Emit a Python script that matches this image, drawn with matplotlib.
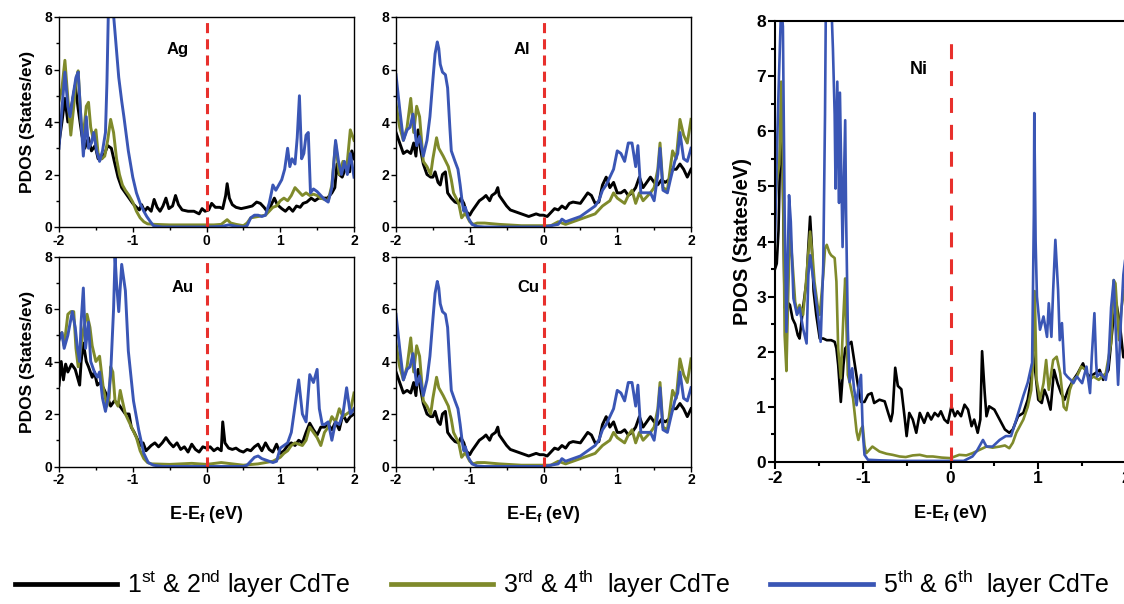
import numpy as np
import matplotlib
matplotlib.use("Agg")
import matplotlib.pyplot as plt
from matplotlib.ticker import MultipleLocator
from matplotlib.lines import Line2D
from matplotlib import font_manager

# ---------------------------------------------------------------- data
# Each series: (E - Ef in eV, PDOS in states/eV)
ag_black = [(-2.0,3.2),(-1.96,4.0),(-1.92,4.9),(-1.88,4.0),(-1.83,4.6),(-1.78,5.4),(-1.74,4.5),(-1.69,3.5),(-1.65,3.0),(-1.6,3.4),(-1.56,2.9),(-1.51,3.1),(-1.47,2.6),(-1.42,2.6),(-1.38,2.8),(-1.34,3.1),(-1.29,3.0),(-1.25,2.5),(-1.2,1.9),(-1.15,1.5),(-1.1,1.3),(-1.05,1.1),(-1.0,0.9),(-0.95,0.75),(-0.91,0.65),(-0.88,0.85),(-0.84,0.6),(-0.8,0.75),(-0.75,0.6),(-0.71,1.05),(-0.67,0.75),(-0.63,0.6),(-0.59,0.8),(-0.55,1.1),(-0.51,0.7),(-0.46,0.8),(-0.42,1.2),(-0.38,0.85),(-0.33,0.65),(-0.25,0.6),(-0.17,0.6),(-0.1,0.5),(-0.06,0.7),(-0.02,0.6),(0.03,0.65),(0.07,0.9),(0.12,0.75),(0.18,0.75),(0.22,0.7),(0.26,1.2),(0.28,1.65),(0.31,1.1),(0.35,0.85),(0.4,0.75),(0.47,0.7),(0.55,0.75),(0.62,0.8),(0.68,0.95),(0.73,0.9),(0.78,0.75),(0.82,0.6),(0.87,0.8),(0.92,1.1),(0.96,0.85),(1.02,0.7),(1.07,0.6),(1.12,0.75),(1.17,0.6),(1.22,0.8),(1.27,0.75),(1.31,0.9),(1.36,0.95),(1.42,1.1),(1.47,1.0),(1.52,1.1),(1.58,1.1),(1.64,1.1),(1.7,1.3),(1.74,1.5),(1.77,2.4),(1.8,2.0),(1.84,1.9),(1.88,2.2),(1.91,2.3),(1.94,2.1),(1.97,2.9),(2.0,2.6)]
ag_green = [(-2.0,4.8),(-1.96,5.3),(-1.92,6.35),(-1.88,4.9),(-1.84,3.5),(-1.8,4.6),(-1.77,5.6),(-1.74,5.95),(-1.7,4.0),(-1.67,3.5),(-1.63,4.6),(-1.6,4.75),(-1.57,3.8),(-1.54,3.4),(-1.5,3.7),(-1.47,2.8),(-1.42,2.6),(-1.38,2.7),(-1.34,3.3),(-1.3,4.1),(-1.26,3.6),(-1.22,2.6),(-1.18,2.0),(-1.14,1.6),(-1.1,1.4),(-1.05,1.2),(-1.0,0.95),(-0.95,0.6),(-0.9,0.35),(-0.85,0.2),(-0.8,0.12),(-0.7,0.1),(-0.5,0.08),(-0.3,0.08),(-0.1,0.08),(0.1,0.08),(0.2,0.1),(0.28,0.28),(0.33,0.15),(0.4,0.1),(0.5,0.05),(0.55,0.15),(0.6,0.35),(0.7,0.4),(0.8,0.45),(0.85,0.6),(0.9,0.75),(0.95,0.8),(1.0,1.0),(1.05,1.1),(1.1,1.0),(1.15,1.2),(1.2,1.5),(1.25,1.35),(1.3,1.2),(1.35,1.3),(1.4,1.2),(1.45,1.25),(1.5,1.2),(1.55,1.1),(1.6,1.05),(1.65,1.0),(1.7,1.6),(1.75,3.2),(1.8,2.0),(1.85,2.5),(1.9,2.2),(1.95,3.7),(2.0,3.3)]
ag_blue = [(-2.0,3.0),(-1.96,4.5),(-1.92,5.9),(-1.88,4.6),(-1.85,4.2),(-1.81,5.0),(-1.77,5.7),(-1.74,5.9),(-1.7,4.0),(-1.67,2.7),(-1.63,4.2),(-1.6,3.0),(-1.56,3.2),(-1.53,3.6),(-1.49,2.9),(-1.45,2.5),(-1.41,2.9),(-1.37,3.6),(-1.35,5.5),(-1.33,8.3),(-1.3,9.0),(-1.27,8.4),(-1.24,7.4),(-1.19,5.7),(-1.15,4.8),(-1.12,4.2),(-1.06,2.9),(-1.0,1.9),(-0.95,1.3),(-0.9,0.9),(-0.85,0.6),(-0.81,0.4),(-0.76,0.2),(-0.72,0.05),(-0.6,0.0),(-0.3,0.0),(0.0,0.0),(0.2,0.02),(0.3,0.08),(0.4,0.03),(0.5,0.0),(0.55,0.05),(0.6,0.35),(0.65,0.45),(0.7,0.45),(0.75,0.4),(0.8,0.45),(0.85,0.9),(0.88,1.3),(0.9,1.6),(0.94,1.4),(0.98,1.6),(1.02,1.8),(1.06,2.2),(1.1,3.0),(1.13,2.3),(1.16,2.6),(1.2,2.4),(1.23,3.4),(1.26,5.0),(1.29,2.6),(1.32,2.8),(1.35,3.5),(1.38,3.6),(1.41,1.3),(1.45,1.45),(1.5,1.35),(1.55,1.2),(1.6,1.05),(1.65,0.95),(1.7,1.5),(1.75,3.3),(1.79,2.5),(1.83,2.0),(1.87,2.5),(1.91,2.0),(1.95,2.8),(2.0,1.9)]

al_black = [(-2.0,3.6),(-1.95,3.2),(-1.9,2.8),(-1.85,2.9),(-1.8,2.8),(-1.76,3.2),(-1.73,2.7),(-1.7,3.7),(-1.67,3.0),(-1.63,2.4),(-1.58,2.0),(-1.53,1.9),(-1.5,1.9),(-1.47,2.1),(-1.43,1.7),(-1.4,1.6),(-1.37,2.0),(-1.33,2.1),(-1.3,1.3),(-1.25,1.1),(-1.2,0.95),(-1.15,0.9),(-1.12,1.1),(-1.08,0.9),(-1.05,0.6),(-1.0,0.45),(-0.97,0.6),(-0.92,0.8),(-0.87,1.0),(-0.82,1.1),(-0.78,1.2),(-0.73,1.0),(-0.7,1.2),(-0.65,1.3),(-0.62,1.5),(-0.6,1.2),(-0.55,1.0),(-0.5,0.8),(-0.45,0.65),(-0.4,0.6),(-0.35,0.55),(-0.3,0.5),(-0.2,0.4),(-0.1,0.5),(-0.05,0.45),(0.0,0.45),(0.05,0.4),(0.1,0.55),(0.15,0.7),(0.2,0.65),(0.25,0.8),(0.3,0.7),(0.35,0.9),(0.4,0.95),(0.5,0.9),(0.55,1.1),(0.6,1.3),(0.65,1.2),(0.7,0.9),(0.75,0.95),(0.8,1.6),(0.85,1.9),(0.9,1.5),(0.95,1.7),(1.0,1.3),(1.05,1.3),(1.1,1.4),(1.15,1.2),(1.2,1.3),(1.25,1.5),(1.3,1.9),(1.35,1.5),(1.4,1.7),(1.45,1.9),(1.5,1.7),(1.55,1.6),(1.6,1.8),(1.65,1.7),(1.7,1.8),(1.75,2.2),(1.8,2.2),(1.85,2.4),(1.9,2.2),(1.95,1.9),(2.0,2.2)]
al_green = [(-2.0,4.7),(-1.95,3.8),(-1.9,3.3),(-1.85,3.8),(-1.8,4.9),(-1.76,3.6),(-1.72,4.6),(-1.68,4.2),(-1.63,2.5),(-1.58,2.3),(-1.53,2.0),(-1.5,2.6),(-1.45,3.4),(-1.42,3.0),(-1.36,2.7),(-1.29,2.3),(-1.25,1.8),(-1.22,1.3),(-1.15,0.9),(-1.11,0.35),(-1.06,0.53),(-1.0,0.2),(-0.95,0.1),(-0.9,0.15),(-0.8,0.15),(-0.6,0.1),(-0.3,0.05),(0.0,0.05),(0.1,0.05),(0.2,0.2),(0.3,0.1),(0.4,0.2),(0.5,0.3),(0.6,0.4),(0.7,0.5),(0.8,0.8),(0.9,1.0),(0.95,1.3),(1.0,1.1),(1.1,0.9),(1.15,1.2),(1.2,1.4),(1.25,0.9),(1.3,1.3),(1.35,1.0),(1.45,1.3),(1.5,1.5),(1.55,2.2),(1.58,3.2),(1.62,1.5),(1.68,1.4),(1.75,2.9),(1.8,2.6),(1.85,4.1),(1.9,3.5),(1.95,3.2),(2.0,4.1)]
al_blue = [(-2.0,5.8),(-1.95,4.5),(-1.9,3.3),(-1.85,3.7),(-1.81,3.8),(-1.77,4.3),(-1.72,3.1),(-1.68,3.45),(-1.63,2.7),(-1.58,3.3),(-1.54,4.2),(-1.5,5.6),(-1.47,6.6),(-1.44,7.05),(-1.42,6.8),(-1.4,6.2),(-1.37,5.9),(-1.33,5.8),(-1.3,5.3),(-1.27,3.8),(-1.25,2.9),(-1.2,2.5),(-1.16,2.2),(-1.13,1.6),(-1.1,0.9),(-1.08,0.6),(-1.06,0.75),(-1.02,0.35),(-0.97,0.1),(-0.9,0.02),(-0.8,0.0),(0.0,0.0),(0.1,0.05),(0.2,0.1),(0.25,0.3),(0.3,0.2),(0.4,0.3),(0.5,0.4),(0.6,0.6),(0.7,0.8),(0.75,1.0),(0.8,1.4),(0.85,1.6),(0.9,1.9),(0.95,2.2),(1.0,2.9),(1.05,2.8),(1.1,2.5),(1.15,3.2),(1.2,3.2),(1.25,2.3),(1.28,3.1),(1.32,1.3),(1.4,1.3),(1.45,1.3),(1.5,1.0),(1.55,2.0),(1.58,3.0),(1.62,1.4),(1.68,1.3),(1.72,1.8),(1.78,2.5),(1.82,2.8),(1.85,3.6),(1.9,2.6),(1.95,2.5),(2.0,3.0)]

au_black = [(-2.0,3.1),(-1.97,4.0),(-1.94,3.3),(-1.91,3.9),(-1.88,3.6),(-1.83,3.9),(-1.78,3.7),(-1.74,3.3),(-1.72,3.1),(-1.7,4.0),(-1.67,4.7),(-1.63,4.0),(-1.6,3.8),(-1.55,3.4),(-1.52,3.6),(-1.48,3.1),(-1.44,3.2),(-1.4,3.0),(-1.35,2.7),(-1.3,2.3),(-1.25,2.5),(-1.2,2.4),(-1.15,2.2),(-1.1,2.0),(-1.05,2.0),(-1.02,1.5),(-0.98,1.3),(-0.93,1.0),(-0.9,0.8),(-0.86,0.9),(-0.82,0.6),(-0.75,0.8),(-0.7,0.9),(-0.65,0.75),(-0.6,0.9),(-0.55,1.1),(-0.5,0.9),(-0.45,0.75),(-0.4,0.9),(-0.35,0.65),(-0.3,0.75),(-0.25,0.55),(-0.2,0.85),(-0.15,0.65),(-0.1,0.55),(-0.05,0.75),(0.0,0.7),(0.05,0.75),(0.1,0.6),(0.15,0.7),(0.2,0.6),(0.22,1.7),(0.25,0.9),(0.3,0.7),(0.35,0.65),(0.4,0.7),(0.45,0.6),(0.5,0.55),(0.55,0.65),(0.6,0.6),(0.65,0.75),(0.7,0.85),(0.75,0.6),(0.8,0.9),(0.85,0.65),(0.9,0.55),(0.95,0.85),(1.0,0.5),(1.05,0.6),(1.1,0.8),(1.15,0.9),(1.2,0.8),(1.25,1.0),(1.3,0.9),(1.35,1.3),(1.4,1.65),(1.45,1.4),(1.5,1.2),(1.55,1.5),(1.6,1.5),(1.65,1.6),(1.7,1.4),(1.75,1.7),(1.8,1.4),(1.85,2.0),(1.9,1.7),(1.95,1.9),(2.0,2.0)]
au_green = [(-2.0,5.0),(-1.96,5.1),(-1.93,4.6),(-1.88,5.8),(-1.84,5.9),(-1.8,5.9),(-1.77,4.5),(-1.74,3.8),(-1.7,4.6),(-1.67,5.2),(-1.62,5.8),(-1.58,5.3),(-1.55,4.6),(-1.5,4.0),(-1.45,4.2),(-1.4,3.0),(-1.35,2.3),(-1.32,2.6),(-1.3,3.8),(-1.27,3.6),(-1.24,2.5),(-1.2,2.3),(-1.17,2.9),(-1.14,2.5),(-1.1,2.0),(-1.05,1.7),(-1.0,1.4),(-0.95,1.1),(-0.9,0.6),(-0.85,0.3),(-0.8,0.15),(-0.75,0.1),(-0.5,0.08),(-0.2,0.12),(0.0,0.08),(0.2,0.15),(0.5,0.05),(0.7,0.1),(0.8,0.15),(0.9,0.2),(1.0,0.35),(1.05,0.5),(1.1,0.6),(1.15,0.8),(1.2,0.9),(1.25,0.85),(1.3,0.8),(1.35,1.0),(1.4,1.5),(1.45,1.3),(1.5,1.1),(1.55,0.8),(1.6,1.3),(1.65,1.5),(1.7,1.9),(1.75,1.7),(1.8,2.2),(1.85,1.9),(1.9,2.0),(1.95,2.1),(2.0,2.8)]
au_blue = [(-2.0,4.8),(-1.96,5.1),(-1.93,4.5),(-1.88,5.0),(-1.82,5.9),(-1.78,5.3),(-1.75,4.5),(-1.72,4.0),(-1.7,5.5),(-1.67,6.8),(-1.64,4.5),(-1.6,5.5),(-1.57,4.0),(-1.52,3.6),(-1.48,3.4),(-1.45,3.6),(-1.41,2.6),(-1.37,2.1),(-1.33,2.7),(-1.3,3.5),(-1.26,6.0),(-1.24,8.0),(-1.22,7.0),(-1.19,5.9),(-1.15,7.7),(-1.1,6.7),(-1.06,4.4),(-0.99,2.5),(-0.92,1.4),(-0.85,0.5),(-0.79,0.15),(-0.72,0.05),(-0.6,0.0),(0.5,0.0),(0.55,0.05),(0.6,0.2),(0.65,0.35),(0.7,0.4),(0.75,0.3),(0.8,0.25),(0.85,0.2),(0.9,0.15),(0.95,0.2),(1.0,0.7),(1.05,0.8),(1.1,0.9),(1.15,1.3),(1.2,2.3),(1.25,3.3),(1.3,2.0),(1.35,1.7),(1.4,3.5),(1.45,3.2),(1.5,3.7),(1.53,2.2),(1.57,1.6),(1.6,1.6),(1.65,1.7),(1.7,1.0),(1.75,1.7),(1.8,1.6),(1.85,2.0),(1.9,3.0),(1.95,2.0),(2.0,2.2)]

# Cu interface gives the same layer-resolved PDOS as Al
cu_black = list(al_black)
cu_green = list(al_green)
cu_blue = list(al_blue)

ni_black = [(-2.0,3.5),(-1.98,3.6),(-1.96,4.2),(-1.94,5.7),(-1.92,6.1),(-1.91,5.0),(-1.89,2.8),(-1.86,2.9),(-1.83,2.85),(-1.8,2.6),(-1.77,2.5),(-1.74,2.3),(-1.72,2.24),(-1.68,2.8),(-1.64,3.3),(-1.62,3.9),(-1.6,4.45),(-1.58,3.9),(-1.56,3.1),(-1.53,2.67),(-1.49,2.24),(-1.45,2.24),(-1.41,2.21),(-1.36,2.21),(-1.32,2.18),(-1.3,2.06),(-1.28,1.76),(-1.25,1.09),(-1.22,1.76),(-1.2,2.06),(-1.17,2.12),(-1.13,2.18),(-1.09,1.76),(-1.05,1.34),(-1.02,1.09),(-0.98,1.09),(-0.94,1.22),(-0.9,1.25),(-0.87,1.07),(-0.81,1.13),(-0.75,1.1),(-0.71,0.89),(-0.68,0.74),(-0.66,0.89),(-0.63,1.71),(-0.6,1.38),(-0.56,1.32),(-0.52,0.77),(-0.5,0.47),(-0.47,0.89),(-0.43,0.77),(-0.39,0.53),(-0.35,0.89),(-0.3,0.71),(-0.26,0.89),(-0.22,0.77),(-0.18,0.89),(-0.14,0.83),(-0.11,0.92),(-0.07,0.77),(-0.03,0.71),(0.01,1.01),(0.05,0.83),(0.08,0.92),(0.12,0.83),(0.16,1.04),(0.2,0.95),(0.24,0.65),(0.27,0.77),(0.31,0.53),(0.34,0.77),(0.36,2.01),(0.39,1.25),(0.41,0.83),(0.44,1.01),(0.5,0.95),(0.56,0.77),(0.62,0.59),(0.67,0.53),(0.71,0.59),(0.77,0.83),(0.83,0.89),(0.88,1.13),(0.92,1.5),(0.94,1.97),(0.96,1.73),(1.0,1.13),(1.04,1.07),(1.07,1.31),(1.1,1.19),(1.14,0.95),(1.18,1.67),(1.22,1.43),(1.26,1.25),(1.3,1.13),(1.34,1.31),(1.4,1.49),(1.45,1.61),(1.51,1.79),(1.55,1.61),(1.59,1.55),(1.65,1.61),(1.7,1.67),(1.74,1.49),(1.8,1.67),(1.85,2.5),(1.89,2.88),(1.93,2.5),(1.97,1.9),(2.0,2.0)]
ni_green = [(-2.0,4.5),(-1.98,5.1),(-1.95,5.4),(-1.93,6.9),(-1.91,5.5),(-1.89,2.3),(-1.87,1.65),(-1.85,3.0),(-1.83,4.2),(-1.8,3.6),(-1.77,2.9),(-1.74,2.7),(-1.72,2.85),(-1.68,2.67),(-1.65,3.2),(-1.62,3.8),(-1.6,4.18),(-1.57,3.7),(-1.55,3.27),(-1.51,2.79),(-1.49,2.67),(-1.45,3.4),(-1.43,3.87),(-1.41,3.94),(-1.38,3.8),(-1.36,3.75),(-1.32,3.7),(-1.3,3.27),(-1.28,2.06),(-1.25,1.52),(-1.22,2.67),(-1.2,3.33),(-1.19,2.67),(-1.17,1.58),(-1.15,1.45),(-1.11,1.15),(-1.07,0.55),(-1.05,0.4),(-1.02,0.6),(-1.0,0.65),(-0.98,0.3),(-0.96,0.16),(-0.89,0.28),(-0.81,0.19),(-0.73,0.15),(-0.66,0.13),(-0.58,0.1),(-0.51,0.09),(-0.43,0.12),(-0.35,0.13),(-0.27,0.1),(-0.2,0.1),(-0.1,0.08),(0.0,0.07),(0.1,0.13),(0.18,0.12),(0.25,0.16),(0.33,0.22),(0.41,0.28),(0.48,0.26),(0.56,0.28),(0.62,0.3),(0.67,0.25),(0.71,0.35),(0.75,0.53),(0.83,0.77),(0.88,1.0),(0.92,1.3),(0.94,1.8),(0.96,3.1),(0.98,1.5),(1.02,1.13),(1.06,1.43),(1.09,1.85),(1.12,1.31),(1.17,1.85),(1.21,1.91),(1.25,1.61),(1.29,1.0),(1.32,0.94),(1.36,1.31),(1.4,1.49),(1.44,1.55),(1.49,1.73),(1.54,1.67),(1.58,1.49),(1.63,1.55),(1.69,1.49),(1.77,1.61),(1.83,2.16),(1.86,3.3),(1.88,3.24),(1.92,2.21),(1.95,2.82),(1.98,3.12),(2.0,3.0)]
ni_blue = [(-2.0,4.0),(-1.98,5.5),(-1.96,6.7),(-1.93,8.3),(-1.91,7.9),(-1.89,4.5),(-1.87,2.36),(-1.84,4.84),(-1.82,4.36),(-1.79,2.97),(-1.75,2.67),(-1.72,2.8),(-1.68,2.42),(-1.64,2.15),(-1.62,3.39),(-1.6,3.75),(-1.55,3.15),(-1.51,2.67),(-1.48,2.18),(-1.45,3.57),(-1.43,6.3),(-1.42,8.4),(-1.39,8.6),(-1.36,8.4),(-1.34,7.5),(-1.32,6.3),(-1.31,4.96),(-1.29,6.9),(-1.27,4.7),(-1.26,6.7),(-1.23,3.9),(-1.2,6.2),(-1.19,4.5),(-1.17,2.4),(-1.15,1.45),(-1.12,1.7),(-1.1,1.34),(-1.07,1.03),(-1.05,1.34),(-1.02,1.58),(-1.0,0.55),(-0.98,0.13),(-0.94,0.04),(-0.8,0.03),(-0.6,0.02),(-0.4,0.02),(-0.2,0.02),(0.0,0.02),(0.15,0.02),(0.25,0.1),(0.3,0.2),(0.37,0.4),(0.41,0.28),(0.48,0.28),(0.56,0.4),(0.63,0.47),(0.69,0.47),(0.75,0.77),(0.83,1.2),(0.88,1.44),(0.93,1.8),(0.95,4.5),(0.955,6.33),(0.97,4.0),(0.985,3.0),(1.02,2.4),(1.06,2.64),(1.1,2.27),(1.12,2.88),(1.15,2.27),(1.17,3.12),(1.195,4.03),(1.226,3.12),(1.245,2.21),(1.27,2.52),(1.3,1.61),(1.33,1.55),(1.37,1.49),(1.4,1.43),(1.44,1.55),(1.5,1.43),(1.55,1.73),(1.59,1.25),(1.61,1.91),(1.64,2.7),(1.66,1.8),(1.67,1.55),(1.71,1.61),(1.77,1.49),(1.8,1.8),(1.83,2.8),(1.86,3.3),(1.88,2.5),(1.91,1.4),(1.94,2.5),(1.97,3.4),(2.0,3.8)]

layer_labels = [r"1$^{\mathrm{st}}$ & 2$^{\mathrm{nd}}$ layer CdTe",
                r"3$^{\mathrm{rd}}$ & 4$^{\mathrm{th}}$  layer CdTe",
                r"5$^{\mathrm{th}}$ & 6$^{\mathrm{th}}$  layer CdTe"]
xticks = [-2, -1, 0, 1, 2]

# ---------------------------------------------------------------- style
installed = {f.name for f in font_manager.fontManager.ttflist}
narrow = "Liberation Sans Narrow" if "Liberation Sans Narrow" in installed else "Liberation Sans"

plt.rcParams["font.family"] = ["Liberation Sans", "DejaVu Sans"]
plt.rcParams["axes.unicode_minus"] = False
plt.rcParams["mathtext.fontset"] = "custom"
plt.rcParams["mathtext.rm"] = narrow
plt.rcParams["mathtext.bf"] = "Liberation Sans:bold"

C_BLACK = "#000000"
C_GREEN = "#7f8a2b"
C_BLUE = "#3a56b5"
C_RED = "#e8302c"
COLORS = [C_BLACK, C_GREEN, C_BLUE]

fig = plt.figure(figsize=(11.24, 6.04), dpi=100)


def draw_series(ax, series, lw):
    for s, c in zip(series, COLORS):
        e, v = np.array(s).T
        ax.plot(e, v, color=c, lw=lw, solid_joinstyle="round")


def style_axes(ax, ymax, ymajor, yminor, tick_fs, spine_lw):
    ax.set_xlim(-2, 2)
    ax.set_ylim(0, ymax)
    ax.set_xticks(xticks)
    ax.xaxis.set_minor_locator(MultipleLocator(0.5))
    ax.yaxis.set_major_locator(MultipleLocator(ymajor))
    ax.yaxis.set_minor_locator(MultipleLocator(yminor))
    ax.tick_params(which="both", direction="out", width=spine_lw,
                   labelsize=tick_fs, pad=1.5)
    ax.tick_params(which="major", length=3.5)
    ax.tick_params(which="minor", length=2)
    for lab in ax.get_xticklabels() + ax.get_yticklabels():
        lab.set_fontweight("bold")
    for sp in ax.spines.values():
        sp.set_linewidth(spine_lw)


# small panels: (left, bottom) in figure fraction
W, H = 1124, 604
small = [
    ("Ag", 59, 17, [ag_black, ag_green, ag_blue], 0.403, 0.843, True, False),
    ("Al", 396, 17, [al_black, al_green, al_blue], 0.427, 0.843, False, False),
    ("Au", 59, 256.5, [au_black, au_green, au_blue], 0.42, 0.854, True, True),
    ("Cu", 396, 256.5, [cu_black, cu_green, cu_blue], 0.45, 0.854, False, True),
]
for name, px, py, series, tx, ty, ylab, xlab in small:
    ax = fig.add_axes([px / W, 1 - (py + 210) / H, 295 / W, 210 / H])
    draw_series(ax, series, 2.1)
    ax.axvline(0, color=C_RED, lw=2.2, dashes=(3.3, 2.0))
    style_axes(ax, 8, 2, 1, 10, 1.0)
    ax.text(tx, ty, name, transform=ax.transAxes, fontsize=12,
            fontweight="bold", ha="center", va="center")
    if ylab:
        ax.set_ylabel("PDOS (States/ev)", fontsize=12.5, fontweight="bold", labelpad=7)
    if xlab:
        ax.set_xlabel(r"E-E$_{\mathbf{f}}$ (eV)", fontsize=13, fontweight="bold", labelpad=12)

# Ni panel (extends slightly beyond the right edge of the canvas)
axn = fig.add_axes([775 / W, 1 - 462 / H, 351 / W, 441 / H])
draw_series(axn, [ni_black, ni_green, ni_blue], 1.9)
axn.vlines(0, 0, 7.78, color=C_RED, lw=2.2, linestyles=[(0, (4.9, 3.9))])
style_axes(axn, 8, 1, 0.5, 12.5, 1.5)
axn.tick_params(which="major", length=5)
axn.tick_params(which="minor", length=3)
axn.text(0.41, 0.889, "Ni", transform=axn.transAxes, fontsize=13,
         fontweight="bold", ha="center", va="center")
axn.set_ylabel("PDOS (States/eV)", fontsize=14.5, fontweight="bold", labelpad=3)
axn.set_xlabel(r"E-E$_{\mathbf{f}}$ (eV)", fontsize=13, fontweight="bold", labelpad=12)

# shared legend along the bottom
handles = [Line2D([], [], color=c, lw=3.4) for c in COLORS]
fig.legend(handles, layer_labels, loc="center", bbox_to_anchor=(0.5, 1 - 584 / H),
           ncol=3, frameon=False, handlelength=4.1, handletextpad=0.4,
           columnspacing=1.6, prop={"family": narrow, "size": 18})

fig.savefig("out.png", dpi=100)
